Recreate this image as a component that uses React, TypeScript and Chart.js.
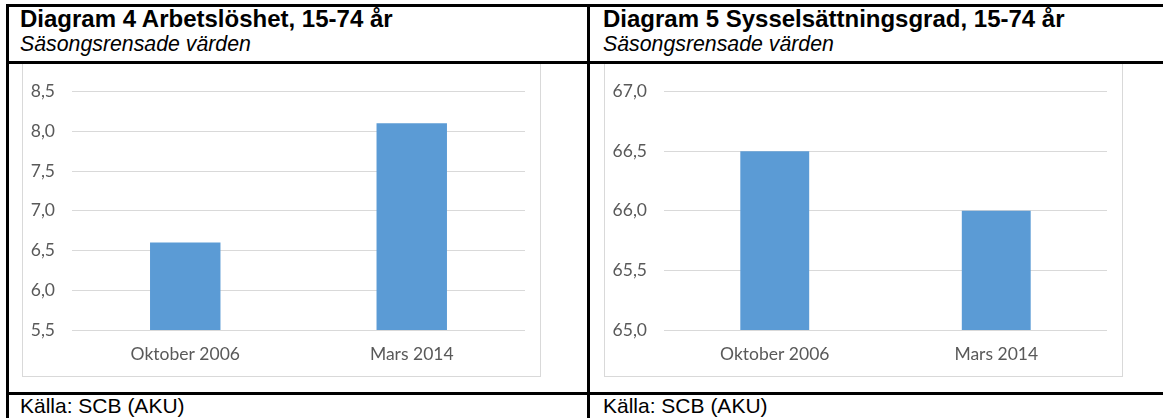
import React, { useEffect, useRef } from 'react';
import { Chart, registerables } from 'chart.js';

Chart.register(...registerables);

// ---- data ----
const categories = ['Oktober 2006', 'Mars 2014'];
const unemploymentValues = [6.6, 8.1];
const employmentValues = [66.5, 66.0];
const unemploymentTicks = [5.5, 6.0, 6.5, 7.0, 7.5, 8.0, 8.5];
const employmentTicks = [65.0, 65.5, 66.0, 66.5, 67.0];

const leftTitle = 'Diagram 4 Arbetslöshet, 15-74 år';
const rightTitle = 'Diagram 5 Sysselsättningsgrad, 15-74 år';
const subtitle = 'Säsongsrensade värden';
const source = 'Källa: SCB (AKU)';

const BAR_COLOR = '#5B9BD5';
const GRID_COLOR = '#d9d9d9';
const TICK_COLOR = '#595959';
const TICK_FONT = { family: 'Lato, "Open Sans", sans-serif', size: 17.5 };

type PanelProps = {
  values: number[];
  ticks: number[];
  axisWidth: number;
  left: number;
};

function BarChartBox({ values, ticks, axisWidth, left }: PanelProps) {
  const ref = useRef<HTMLCanvasElement | null>(null);
  useEffect(() => {
    if (!ref.current) return;
    const chart = new Chart(ref.current, {
      type: 'bar',
      data: {
        labels: categories,
        datasets: [
          {
            data: values,
            backgroundColor: BAR_COLOR,
            borderWidth: 0,
            barPercentage: 1,
            categoryPercentage: 0.311,
          },
        ],
      },
      options: {
        animation: false,
        responsive: false,
        maintainAspectRatio: false,
        devicePixelRatio: 1,
        layout: { padding: { top: 18, right: 15, left: 0, bottom: 0 } },
        plugins: { legend: { display: false }, tooltip: { enabled: false }, title: { display: false } },
        scales: {
          x: {
            grid: { display: false, drawTicks: false },
            border: { display: false },
            ticks: { font: TICK_FONT, color: TICK_COLOR, padding: 14, maxRotation: 0 },
            afterFit: (s: any) => {
              s.height = 46;
            },
          },
          y: {
            min: ticks[0],
            max: ticks[ticks.length - 1],
            afterBuildTicks: (s: any) => {
              s.ticks = ticks.map((v) => ({ value: v }));
            },
            grid: { color: GRID_COLOR, lineWidth: 1, drawTicks: false },
            border: { display: false },
            ticks: {
              font: TICK_FONT,
              color: TICK_COLOR,
              padding: 17,
              callback: (v: any) => Number(v).toFixed(1).replace('.', ','),
            },
            afterFit: (s: any) => {
              s.width = axisWidth;
            },
          },
        },
      },
    });
    return () => chart.destroy();
  }, []);

  return (
    <>
      <div
        style={{
          position: 'absolute',
          left: left - 1,
          top: 62,
          width: 519,
          height: 315,
          boxSizing: 'border-box',
          border: '1px solid ' + GRID_COLOR,
        }}
      />
      <canvas
        ref={ref}
        width={517}
        height={312}
        style={{ position: 'absolute', left, top: 64, width: 517, height: 312 }}
      />
    </>
  );
}

const line = (l: number, t: number, w: number, h: number) => (
  <div style={{ position: 'absolute', left: l, top: t, width: w, height: h, background: '#000' }} />
);

const textStyle = (l: number, t: number, size: number, bold: boolean, italic: boolean): React.CSSProperties => ({
  position: 'absolute',
  left: l,
  top: t,
  fontFamily: '"Liberation Sans", Arial, sans-serif',
  fontSize: size,
  lineHeight: size + 'px',
  fontWeight: bold ? 'bold' : 'normal',
  fontStyle: italic ? 'italic' : 'normal',
  color: '#000',
  whiteSpace: 'nowrap',
});

export default function App() {
  return (
    <div
      style={{
        position: 'absolute',
        left: 0,
        top: 0,
        width: 1163,
        height: 418,
        overflow: 'hidden',
        background: '#fff',
      }}
    >
      <div style={textStyle(20, 7, 24, true, false)}>{leftTitle}</div>
      <div style={textStyle(20, 34, 21.3, false, true)}>{subtitle}</div>
      <div style={textStyle(603, 7, 24, true, false)}>{rightTitle}</div>
      <div style={textStyle(603, 34, 21.3, false, true)}>{subtitle}</div>

      <BarChartBox values={unemploymentValues} ticks={unemploymentTicks} axisWidth={49} left={23} />
      <BarChartBox values={employmentValues} ticks={employmentTicks} axisWidth={59} left={605} />

      <div style={textStyle(20, 395, 21, false, false)}>{source}</div>
      <div style={textStyle(603, 395, 21, false, false)}>{source}</div>

      {line(6, 4, 1157, 3)}
      {line(6, 4, 3, 414)}
      {line(587, 4, 3, 414)}
      {line(6, 61, 1157, 3)}
      {line(6, 392, 1157, 3)}
    </div>
  );
}
